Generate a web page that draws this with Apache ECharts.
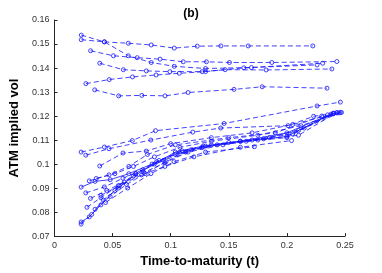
<!DOCTYPE html>
<html>
<head>
<meta charset="utf-8">
<script src="https://cdn.jsdelivr.net/npm/echarts@6/dist/echarts.min.js"></script>
<style>html,body{margin:0;padding:0;background:#fff;}#c{width:382px;height:273px;}</style>
</head>
<body>
<div id="c"></div>
<script>
// Upper group
const u1x = [0.0231,0.0430,0.0636,0.0833,0.1031,0.1229,0.1432,0.1667,0.2223];
const u1y = [0.1537,0.1509,0.1503,0.1496,0.1483,0.1491,0.1492,0.1492,0.1492];
const u2x = [0.0231,0.0430,0.0636,0.0833,0.1031,0.1300,0.1695,0.2308];
const u2y = [0.1518,0.1509,0.1451,0.1423,0.1407,0.1398,0.1402,0.1420];
const u3x = [0.0311,0.0508,0.0712,0.0909,0.1108,0.1308,0.1506,0.1870,0.2430];
const u3y = [0.1472,0.1451,0.1443,0.1437,0.1426,0.1426,0.1423,0.1423,0.1427];
const u4x = [0.0390,0.0593,0.0791,0.0994,0.1271,0.1469,0.1822,0.2387];
const u4y = [0.1420,0.1393,0.1388,0.1385,0.1385,0.1393,0.1392,0.1396];
const u5x = [0.0271,0.0472,0.0672,0.0875,0.1074,0.1300,0.1630,0.2260];
const u5y = [0.1335,0.1352,0.1363,0.1371,0.1378,0.1385,0.1401,0.1413];
const u6x = [0.0347,0.0553,0.0752,0.0952,0.1150,0.1545,0.1788,0.2345];
const u6y = [0.1309,0.1284,0.1286,0.1284,0.1298,0.1311,0.1322,0.1316];
// Lower group
const l1x = [0.023,0.043,0.067,0.087,0.146,0.226,0.246];
const l1y = [0.1050,0.1071,0.1098,0.1139,0.1169,0.1242,0.1258];
const l2x = [0.027,0.047,0.083,0.119,0.143,0.201,0.223,0.247];
const l2y = [0.1037,0.1064,0.1100,0.1133,0.1150,0.1160,0.1199,0.1215];
const l3x = [0.039,0.059,0.079,0.100,0.135,0.170,0.205,0.243];
const l3y = [0.0992,0.1046,0.1054,0.1085,0.1110,0.1130,0.1165,0.1213];
const l4x = [0.023,0.035,0.048,0.064,0.084,0.104,0.127,0.160,0.200,0.240];
const l4y = [0.0904,0.0928,0.0935,0.0960,0.1000,0.1040,0.1070,0.1095,0.1130,0.1212];
const l5x = [0.027,0.043,0.059,0.076,0.094,0.113,0.140,0.175,0.210,0.243];
const l5y = [0.0880,0.0905,0.0941,0.0976,0.1015,0.1050,0.1080,0.1100,0.1120,0.1215];
const l6x = [0.031,0.045,0.060,0.077,0.095,0.115,0.145,0.180,0.210,0.240];
const l6y = [0.0857,0.0890,0.0925,0.0965,0.1005,0.1050,0.1080,0.1105,0.1140,0.1210];
const l7x = [0.023,0.030,0.040,0.052,0.068,0.086,0.104,0.128,0.160,0.200,0.238];
const l7y = [0.0759,0.0780,0.0830,0.0890,0.0950,0.1000,0.1050,0.1075,0.1095,0.1115,0.1208];
const l8x = [0.023,0.032,0.042,0.055,0.070,0.090,0.110,0.135,0.170,0.205,0.240];
const l8y = [0.0750,0.0790,0.0850,0.0900,0.0960,0.1015,0.1055,0.1080,0.1100,0.1125,0.1210];
const l9x = [0.035,0.048,0.062,0.078,0.096,0.118,0.150,0.185,0.215,0.245];
const l9y = [0.0812,0.0865,0.0915,0.0960,0.1010,0.1060,0.1090,0.1110,0.1150,0.1213];
const l10x = [0.044,0.063,0.083,0.103,0.130,0.172];
const l10y = [0.0840,0.0900,0.0960,0.1010,0.1050,0.1072];
const l11x = [0.040,0.056,0.075,0.095,0.120,0.160,0.204];
const l11y = [0.0870,0.0910,0.0955,0.0990,0.1030,0.1070,0.1098];
const l12x = [0.028,0.040,0.055,0.070,0.088,0.108,0.130,0.165,0.200,0.235];
const l12y = [0.0820,0.0860,0.0910,0.0960,0.1010,0.1050,0.1075,0.1095,0.1110,0.1205];
const l13x = [0.036,0.052,0.068,0.086,0.108,0.135,0.175,0.212,0.246];
const l13y = [0.0940,0.0960,0.0990,0.1030,0.1070,0.1095,0.1120,0.1160,0.1215];
const l14x = [0.030,0.047,0.064,0.080,0.104,0.150,0.190,0.230];
const l14y = [0.0930,0.0955,0.0990,0.1040,0.1080,0.1110,0.1130,0.1200];

const seriesList = [
  [u1x,u1y,'dashed'],[u2x,u2y,'dashed'],[u3x,u3y,'dashed'],[u4x,u4y,'dashed'],
  [u5x,u5y,'dashed'],[u6x,u6y,'dashed'],
  [l1x,l1y,'dashed'],[l2x,l2y,'dashed'],[l3x,l3y,'dashed'],[l4x,l4y,'solid'],
  [l5x,l5y,'dashed'],[l6x,l6y,'dashed'],[l7x,l7y,'solid'],[l8x,l8y,'dashed'],
  [l9x,l9y,'dashed'],[l10x,l10y,'dashed'],[l11x,l11y,'dashed'],[l12x,l12y,'dashed'],
  [l13x,l13y,'dashed'],[l14x,l14y,'dashed']
];

const BLUE = 'rgba(20,20,255,0.8)';
const FONT = 'Liberation Sans';

const chart = echarts.init(document.getElementById('c'), null, {renderer:'canvas'});
chart.setOption({
  animation: false,
  backgroundColor: '#fff',
  title: {
    text: '(b)', left: 'center', top: 3,
    textStyle: {fontFamily: FONT, fontSize: 12, fontWeight: 'bold', color: '#000'}
  },
  grid: {left: 50, right: 37, top: 20, bottom: 32, containLabel: false},
  xAxis: {
    type: 'value', min: 0, max: 0.25, interval: 0.05,
    name: 'Time-to-maturity (t)', nameLocation: 'middle', nameGap: 18,
    nameTextStyle: {fontFamily: FONT, fontSize: 13, fontWeight: 'bold', color: '#000'},
    axisLine: {show: true, lineStyle: {color: '#262626', width: 1}},
    axisTick: {show: true, inside: true, length: 3, lineStyle: {color: '#262626'}},
    axisLabel: {fontFamily: FONT, fontSize: 9, color: '#333', margin: 5,
      formatter: v => String(+v.toFixed(2))},
    splitLine: {show: false}
  },
  yAxis: {
    type: 'value', min: 0.07, max: 0.16, interval: 0.01,
    name: 'ATM implied vol', nameLocation: 'middle', nameGap: 27, nameRotate: 90,
    nameTextStyle: {fontFamily: FONT, fontSize: 13, fontWeight: 'bold', color: '#000'},
    axisLine: {show: true, lineStyle: {color: '#262626', width: 1}},
    axisTick: {show: true, inside: true, length: 3, lineStyle: {color: '#262626'}},
    axisLabel: {fontFamily: FONT, fontSize: 9, color: '#333', margin: 5,
      formatter: v => String(+v.toFixed(2))},
    splitLine: {show: false}
  },
  series: seriesList.map(([xs, ys, st]) => ({
    type: 'line',
    data: xs.map((x, i) => [x, ys[i]]),
    symbol: 'circle',
    symbolSize: 4,
    showSymbol: true,
    lineStyle: {color: BLUE, width: 1, type: st === 'dashed' ? [5, 3] : 'solid'},
    itemStyle: {color: 'rgba(0,0,0,0)', borderColor: BLUE, borderWidth: 1},
    emphasis: {disabled: true}
  }))
});
</script>
</body>
</html>
